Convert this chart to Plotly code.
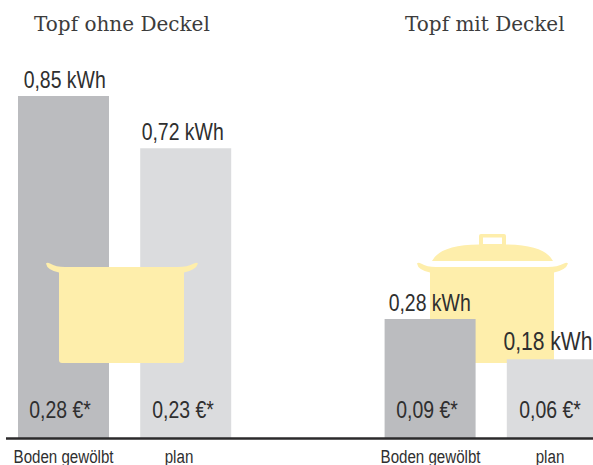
import plotly.graph_objects as go

categories = ["Boden gewölbt", "plan", " ", "Boden gewölbt ", "plan "]
axis_labels = ["Boden gewölbt", "plan", "", "Boden gewölbt", "plan"]
bar_heights = [0.85, 0.72, None, 0.296, 0.196]
energy_labels = ["0,85 kWh", "0,72 kWh", "", "0,28 kWh", "0,18 kWh"]
cost_labels = ["0,28 €*", "0,23 €*", "", "0,09 €*", "0,06 €*"]
bar_colors = ["#BBBCBF", "#DBDCDE", "#FFFFFF", "#BBBCBF", "#DBDCDE"]
group_titles = ["Topf ohne Deckel", "Topf mit Deckel"]

W, H, PB = 593, 465, 27
STEP = 122.2
TEXT = "#2F2F2F"
POT = "#FEEEAB"
SANS = "Liberation Sans, Arial, sans-serif"
SERIF = "DejaVu Serif, serif"

energy_dx = [0.5, -3.5, 0, -1, -4]
energy_size = [24, 24, 0, 24, 26]
cost_dx = [-3.5, -2.5, 0, -3, -2.5]
axis_dx = [-0.5, -7, 0, 0, -2]


def px(x):
    return x / W


def py(y):
    return 1 - y / (H - PB)


def path(*cmds):
    out = []
    for c in cmds:
        if isinstance(c, str):
            out.append(c)
        else:
            out.append(f"{px(c[0]):.5f},{py(c[1]):.5f}")
    return " ".join(out)


def pot_body(x0, x1):
    return path(
        "M", (x0 - 13, 263.5),
        "Q", (x0 - 13 + 1.5, 262), (x0 - 13 + 4, 263.5),
        "Q", (x0 - 3, 267), (x0 + 6, 267),
        "L", (x1 - 6, 267),
        "Q", (x1 + 3, 267), (x1 + 10, 263.5),
        "Q", (x1 + 12.5, 262), (x1 + 14, 263.5),
        "Q", (x1 + 12, 270), (x1, 272.5),
        "L", (x1, 360),
        "Q", (x1, 363), (x1 - 3, 363),
        "L", (x0 + 3, 363),
        "Q", (x0, 363), (x0, 360),
        "L", (x0, 272.5),
        "Q", (x0 - 12, 270), (x0 - 13, 263.5),
        "Z",
    )


lid = path(
    "M", (432, 261),
    "Q", (440, 245), (479, 244.5),
    "L", (479, 236),
    "Q", (479, 234), (481, 234),
    "L", (504, 234),
    "Q", (506, 234), (506, 236),
    "L", (506, 244.5),
    "Q", (545, 245), (553, 261),
    "Z",
    "M", (483, 237.5),
    "L", (483, 244),
    "L", (502, 244),
    "L", (502, 237.5),
    "Z",
)

fig = go.Figure()
fig.add_trace(go.Bar(
    x=categories,
    y=bar_heights,
    width=91 / STEP,
    marker=dict(color=bar_colors, line_width=0),
    hoverinfo="skip",
))

shapes = [
    dict(type="path", xref="paper", yref="paper", path=pot_body(59, 184),
         fillcolor=POT, line_width=0, layer="above"),
    dict(type="path", xref="paper", yref="paper", path=pot_body(430, 554),
         fillcolor=POT, line_width=0, layer="below"),
    dict(type="path", xref="paper", yref="paper", path=lid,
         fillcolor=POT, line_width=0, layer="below"),
    dict(type="line", xref="paper", yref="paper", x0=px(6), x1=1, y0=py(438.5), y1=py(438.5),
         line=dict(color="#2B2A2B", width=2.5), layer="above"),
]

annotations = [
    dict(text=group_titles[0], xref="paper", yref="paper", x=px(122), y=py(24),
         showarrow=False, xanchor="center", yanchor="middle",
         font=dict(family=SERIF, size=20, color="#3C3C3C")),
    dict(text=group_titles[1], xref="paper", yref="paper", x=px(484.5), y=py(24),
         showarrow=False, xanchor="center", yanchor="middle",
         font=dict(family=SERIF, size=20, color="#3C3C3C")),
]
for i, cat in enumerate(categories):
    if not energy_labels[i]:
        continue
    annotations.append(dict(
        text=energy_labels[i], x=cat, y=bar_heights[i], xref="x", yref="y",
        showarrow=False, xanchor="center", yanchor="bottom",
        xshift=energy_dx[i], yshift=1,
        font=dict(family=SANS, size=energy_size[i], color=TEXT)))
    annotations.append(dict(
        text=cost_labels[i], x=cat, y=0.069, xref="x", yref="y",
        showarrow=False, xanchor="center", yanchor="middle",
        xshift=cost_dx[i], yshift=1,
        font=dict(family=SANS, size=24, color=TEXT)))
    annotations.append(dict(
        text=axis_labels[i], x=cat, y=py(457), xref="x", yref="paper",
        showarrow=False, xanchor="center", yanchor="middle",
        xshift=axis_dx[i],
        font=dict(family=SANS, size=18, color=TEXT)))

fig.update_layout(
    width=W, height=H,
    margin=dict(l=0, r=0, t=0, b=PB),
    paper_bgcolor="white", plot_bgcolor="white",
    showlegend=False,
    shapes=shapes,
    annotations=annotations,
    xaxis=dict(
        type="category", categoryorder="array", categoryarray=categories,
        range=[-63.5 / STEP, (W - 63.5) / STEP], showgrid=False, zeroline=False,
        showline=False, ticks="", showticklabels=False,
    ),
    yaxis=dict(range=[0, 1.0886], visible=False, fixedrange=True),
)

# The condensed sans of the original is not installed: the real text is narrowed in place.
narrow = """
document.body.style.margin='0';document.body.style.overflow='hidden';
document.querySelectorAll('.annotation-text').forEach(function(t){
  if((t.style.fontFamily||'').indexOf('Liberation')<0) return;
  var f=parseFloat(t.style.fontSize)<20?0.84:0.81;
  t.setAttribute('textLength',(t.getComputedTextLength()*f).toFixed(1));
  t.setAttribute('lengthAdjust','spacingAndGlyphs');
});
"""
fig.write_html("out.html", config={"displayModeBar": False}, post_script=narrow)
